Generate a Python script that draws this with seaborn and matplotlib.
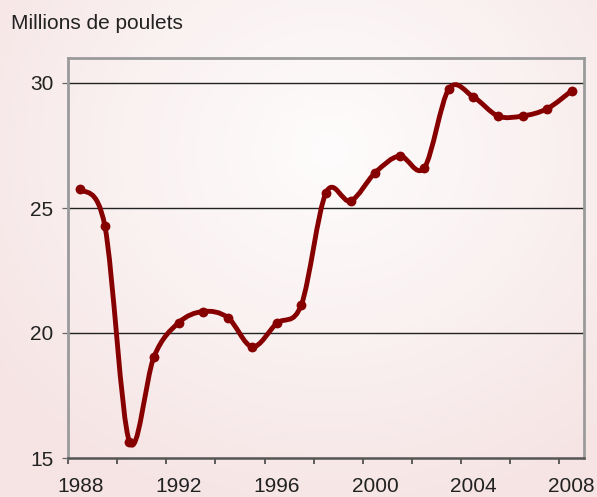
import matplotlib
matplotlib.use("Agg")
import matplotlib.pyplot as plt
import seaborn as sns
import numpy as np
import pandas as pd
from matplotlib.path import Path
from matplotlib.patches import PathPatch
from matplotlib.colors import LinearSegmentedColormap

years = list(range(1988, 2009))
chickens = [25.76, 24.28, 15.65, 19.05, 20.41, 20.86, 20.62, 19.45, 20.39, 21.14,
            25.61, 25.28, 26.41, 27.08, 26.61, 29.76, 29.44, 28.68, 28.68, 28.97, 29.69]
y_ticks = [15, 20, 25, 30]
x_labels = [1988, 1992, 1996, 2000, 2004, 2008]
ylabel = "Millions de poulets"

line_color = "#870000"
text_color = "#222222"

sns.set_theme(style="white")
plt.rcParams["font.family"] = ["Liberation Sans", "DejaVu Sans"]

fig = plt.figure(figsize=(5.97, 4.97), dpi=100)

# radial background gradient
bg = fig.add_axes([0, 0, 1, 1], zorder=-10)
gx, gy = np.meshgrid(np.linspace(0, 597, 300), np.linspace(0, 497, 250))
r = np.sqrt(((gx - 330) / 420) ** 2 + ((gy - 150) / 380) ** 2)
cmap = LinearSegmentedColormap.from_list("bg", ["#fefcfc", "#faf1f1", "#f6e4e4"])
bg.imshow(np.clip(r, 0, 1), cmap=cmap, vmin=0, vmax=1, aspect="auto",
          extent=[0, 597, 497, 0])
bg.axis("off")

ax = fig.add_axes([68 / 597, 1 - 458 / 497, (584 - 68) / 597, (458 - 58) / 497])
ax.patch.set_alpha(0)

df = pd.DataFrame({"year": years, "value": chickens})

# smooth curve (Catmull-Rom style Bezier through the data points)
pts = df[["year", "value"]].to_numpy(dtype=float)
n = len(pts)
verts = [pts[0]]
codes = [Path.MOVETO]
for i in range(n - 1):
    p0 = pts[max(i - 1, 0)]
    p1 = pts[i]
    p2 = pts[i + 1]
    p3 = pts[min(i + 2, n - 1)]
    c1 = p1 + (p2 - p0) / 6
    c2 = p2 - (p3 - p1) / 6
    verts += [c1, c2, p2]
    codes += [Path.CURVE4] * 3
curve = PathPatch(Path(verts, codes), facecolor="none", edgecolor=line_color,
                  lw=3.5, capstyle="round", joinstyle="round", zorder=4)
ax.add_patch(curve)

sns.scatterplot(data=df, x="year", y="value", ax=ax, color=line_color, s=50,
                edgecolor=line_color, linewidth=0, zorder=5, legend=False)

ax.set_xlim(1987.5, 2008.5)
ax.set_ylim(15, 31)

ax.set_yticks(y_ticks)
ax.set_yticklabels([str(v) for v in y_ticks])
for v in y_ticks[1:]:
    ax.axhline(v, color="#222222", lw=1.0, zorder=1)

ax.set_xticks(x_labels)
ax.set_xticklabels([str(v) for v in x_labels])
ax.set_xticks(np.arange(1987.5, 2008.0, 2), minor=True)
ax.tick_params(axis="x", which="major", length=0, pad=14, labelsize=15,
               labelcolor=text_color)
ax.tick_params(axis="x", which="minor", length=4, width=1.2, color="#444444",
               direction="out", bottom=True)
ax.tick_params(axis="y", length=4.5, width=0.9, color="#666666", direction="out",
               left=True, pad=6, labelsize=15, labelcolor=text_color)

ax.set_xlabel("")
ax.set_ylabel("")

for side in ["left", "top", "right"]:
    ax.spines[side].set_color("#9a9a9a")
    ax.spines[side].set_linewidth(2.0)
ax.spines["bottom"].set_color("#555555")
ax.spines["bottom"].set_linewidth(1.8)

fig.text(11 / 597, 1 - 29 / 497, ylabel, fontsize=15, color=text_color,
         ha="left", va="baseline")

fig.savefig("out.png", dpi=100)
